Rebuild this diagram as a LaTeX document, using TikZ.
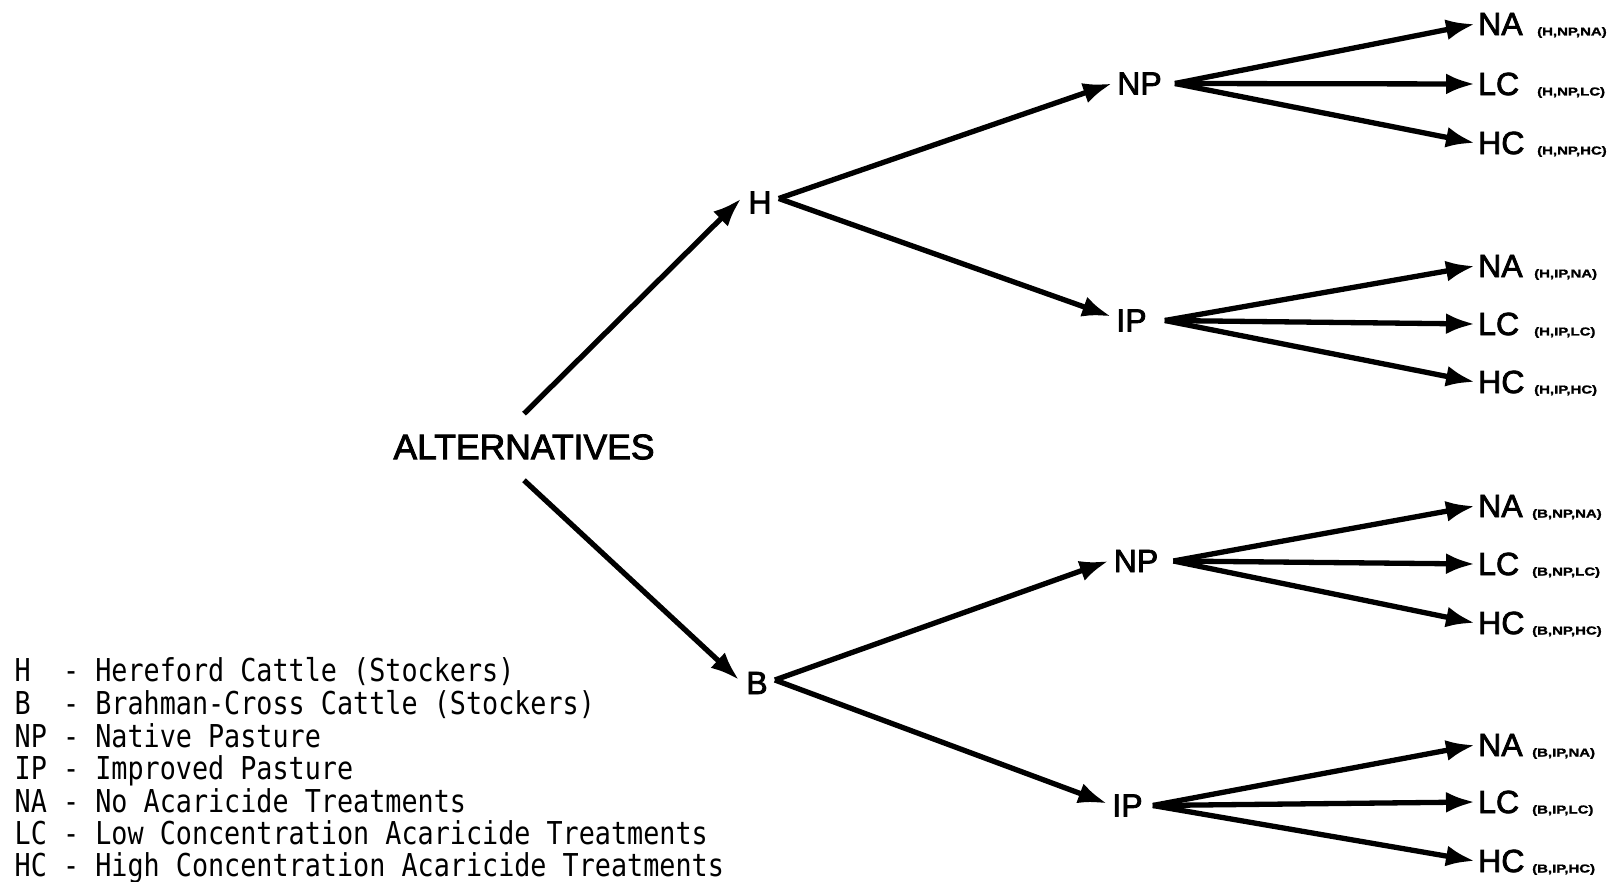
\documentclass[tikz,border=0pt]{standalone}
\usepackage{fontspec}
\setmainfont{Liberation Sans}
\newfontfamily\heavy[FakeBold=2.5]{Liberation Sans}
\newfontfamily\legfont[FakeStretch=0.85]{DejaVu Sans Mono}
\newfontfamily\labfont[FakeStretch=1.3,FakeBold=1.5]{Liberation Sans}
\usetikzlibrary{arrows.meta}
\begin{document}
\begin{tikzpicture}[x=1pt,y=-1pt,
  arr/.style={line width=5.3pt,-{Latex[length=29pt,width=21pt]}},
  mid/.style={font=\heavy\fontsize{32}{36}\selectfont, inner sep=0pt, inner xsep=5pt},
  first/.style={font=\heavy\fontsize{32}{36}\selectfont, inner sep=0pt, inner xsep=7pt},
  altbox/.style={font=\heavy\fontsize{35.5}{40}\selectfont, inner sep=0pt, inner ysep=20.5pt},
  leaf/.style={font=\heavy\fontsize{32}{36}\selectfont, inner sep=0pt, inner xsep=3pt, anchor=west},
  lab/.style={font=\labfont\bfseries\fontsize{11.5}{13}\selectfont, inner sep=0pt, anchor=base west},
  leg/.style={font=\legfont\fontsize{31.5}{33}\selectfont, inner sep=0pt, anchor=base west}]
\useasboundingbox (0,0) rectangle (1619,882);

% main nodes
\node[altbox] (alt) at (524,447) {ALTERNATIVES};
\node[first] (H) at (760,202.5) {H};
\node[first] (B) at (757,683) {B};
\node[mid] (NP1) at (1139.5,83.5) {NP};
\node[mid] (IP1) at (1131.5,320.5) {IP};
\node[mid] (NP2) at (1136,561) {NP};
\node[mid] (IP2) at (1127.5,805.5) {IP};

% leaves
\node[leaf] (a1) at (1475,24) {NA};
\node[leaf] (a2) at (1475,84) {LC};
\node[leaf] (a3) at (1475,143) {HC};
\node[leaf] (b1) at (1475,266) {NA};
\node[leaf] (b2) at (1475,324) {LC};
\node[leaf] (b3) at (1475,382) {HC};
\node[leaf] (c1) at (1475,506) {NA};
\node[leaf] (c2) at (1475,564) {LC};
\node[leaf] (c3) at (1475,623) {HC};
\node[leaf] (d1) at (1475,745) {NA};
\node[leaf] (d2) at (1475,802) {LC};
\node[leaf] (d3) at (1475,861) {HC};

% labels
\node[lab] (la1) at (1537,35.5) {(H,NP,NA)};
\node[lab] (la2) at (1537,95.5) {(H,NP,LC)};
\node[lab] (la3) at (1537,154.5) {(H,NP,HC)};
\node[lab] (lb1) at (1534,277.5) {(H,IP,NA)};
\node[lab] (lb2) at (1534,335.5) {(H,IP,LC)};
\node[lab] (lb3) at (1534,393.5) {(H,IP,HC)};
\node[lab] (lc1) at (1532,517.5) {(B,NP,NA)};
\node[lab] (lc2) at (1532,575.5) {(B,NP,LC)};
\node[lab] (lc3) at (1532,634.5) {(B,NP,HC)};
\node[lab] (ld1) at (1532,756.5) {(B,IP,NA)};
\node[lab] (ld2) at (1532,813.5) {(B,IP,LC)};
\node[lab] (ld3) at (1532,872.5) {(B,IP,HC)};

% connectors
\draw[arr] (alt.north) -- ([yshift=4pt]H.west);
\draw[arr] (alt.south) -- ([yshift=3pt]B.west);
\draw[arr] ([yshift=4pt]H.east) -- (NP1.west);
\draw[arr] ([yshift=4pt]H.east) -- ([yshift=4pt]IP1.west);
\draw[arr] ([yshift=3pt]B.east) -- (NP2.west);
\draw[arr] ([yshift=3pt]B.east) -- ([yshift=2pt]IP2.west);

\foreach \l in {a1,a2,a3} \draw[arr] ([xshift=8pt]NP1.east) -- (\l.west);
\foreach \l in {b1,b2,b3} \draw[arr] ([xshift=13pt]IP1.east) -- (\l.west);
\foreach \l in {c1,c2,c3} \draw[arr] ([xshift=10pt]NP2.east) -- (\l.west);
\foreach \l in {d1,d2,d3} \draw[arr] ([xshift=5pt]IP2.east) -- (\l.west);

% legend
\node[leg] (g1) at (14.5,681.5) {H\ \ - Hereford Cattle (Stockers)};
\node[leg] (g2) at (14.5,714.5) {B\ \ - Brahman-Cross Cattle (Stockers)};
\node[leg] (g3) at (14.5,747.5) {NP - Native Pasture};
\node[leg] (g4) at (14.5,779.5) {IP - Improved Pasture};
\node[leg] (g5) at (14.5,812.5) {NA - No Acaricide Treatments};
\node[leg] (g6) at (14.5,844.5) {LC - Low Concentration Acaricide Treatments};
\node[leg] (g7) at (14.5,876.5) {HC - High Concentration Acaricide Treatments};
\end{tikzpicture}
\end{document}
